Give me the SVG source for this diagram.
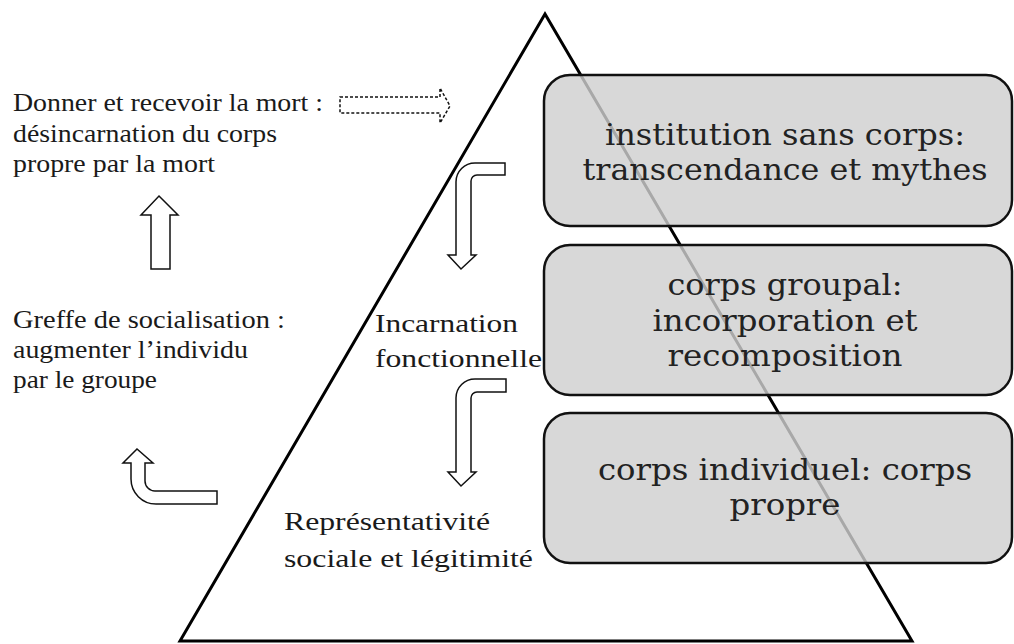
<svg xmlns="http://www.w3.org/2000/svg" width="1014" height="644" viewBox="0 0 1014 644">
<style>
.lt{font-family:"Liberation Serif","Times New Roman",serif;font-size:26px;fill:#1a1a1a}
.bt{font-family:"DejaVu Serif",serif;font-size:29px;fill:#222;text-anchor:middle}
.box{fill:#cfcfcf;fill-opacity:0.81;stroke:#111;stroke-width:2.5}
.arr{fill:#fff;stroke:#111;stroke-width:1.5;stroke-linejoin:miter}
</style>
<rect width="1014" height="644" fill="#fff"/>
<g id="pyramid">
<polygon points="545,14 180,641 912,641" fill="none" stroke="#000" stroke-width="3"/>
</g>
<g id="box-institution">
<rect class="box" x="544" y="75" width="468" height="151" rx="26"/>
<text class="bt" x="785" y="145" textLength="360" lengthAdjust="spacingAndGlyphs">institution sans corps:</text>
<text class="bt" x="785" y="180" textLength="405" lengthAdjust="spacingAndGlyphs">transcendance et mythes</text>
</g>
<g id="box-groupal">
<rect class="box" x="544" y="245" width="468" height="150" rx="26"/>
<text class="bt" x="785" y="295" textLength="235" lengthAdjust="spacingAndGlyphs">corps groupal:</text>
<text class="bt" x="785" y="331" textLength="265" lengthAdjust="spacingAndGlyphs">incorporation et</text>
<text class="bt" x="785" y="366" textLength="235" lengthAdjust="spacingAndGlyphs">recomposition</text>
</g>
<g id="box-individuel">
<rect class="box" x="544" y="413" width="468" height="150" rx="26"/>
<text class="bt" x="785" y="480" textLength="374" lengthAdjust="spacingAndGlyphs">corps individuel: corps</text>
<text class="bt" x="785" y="515" textLength="111" lengthAdjust="spacingAndGlyphs">propre</text>
</g>
<g id="label-mort">
<text class="lt" x="13" y="111" textLength="310" lengthAdjust="spacingAndGlyphs">Donner et recevoir la mort :</text>
<text class="lt" x="13" y="142" textLength="264" lengthAdjust="spacingAndGlyphs">désincarnation du corps</text>
<text class="lt" x="13" y="172" textLength="202" lengthAdjust="spacingAndGlyphs">propre par la mort</text>
</g>
<g id="label-greffe">
<text class="lt" x="13" y="328" textLength="272" lengthAdjust="spacingAndGlyphs">Greffe de socialisation :</text>
<text class="lt" x="13" y="358" textLength="235" lengthAdjust="spacingAndGlyphs">augmenter l’individu</text>
<text class="lt" x="13" y="388" textLength="144" lengthAdjust="spacingAndGlyphs">par le groupe</text>
</g>
<g id="label-incarnation">
<text class="lt" x="375" y="332" textLength="143" lengthAdjust="spacingAndGlyphs">Incarnation</text>
<text class="lt" x="375" y="367" textLength="167" lengthAdjust="spacingAndGlyphs">fonctionnelle</text>
</g>
<g id="label-representativite">
<text class="lt" x="284" y="530" textLength="206" lengthAdjust="spacingAndGlyphs">Représentativité</text>
<text class="lt" x="284" y="567" textLength="249" lengthAdjust="spacingAndGlyphs">sociale et légitimité</text>
</g>
<g id="connectors">
<path class="arr" d="M340,97 H440 V88 L450,106 L440,123 V113 H340 Z" stroke="#333" stroke-width="1.2" stroke-dasharray="3 2"/>
<path class="arr" d="M159,196 L178,215 H170 V269 H151 V215 H141 Z"/>
<path class="arr" d="M505,163 H475 A19,19 0 0 0 456,182 V255 H448 L461,269 L476,255 H471 V181 A6,6 0 0 1 477,175 H505 Z"/>
<path class="arr" d="M506,379 H475 A19,19 0 0 0 456,398 V472 H448 L461,486 L476,472 H471 V398 A6,6 0 0 1 477,392 H506 Z"/>
<path class="arr" d="M217,491 H155 A10,10 0 0 1 145,481 V463 H153 L137,449 L123,463 H131 V479 A25,25 0 0 0 156,504 H217 Z"/>
</g>
</svg>
